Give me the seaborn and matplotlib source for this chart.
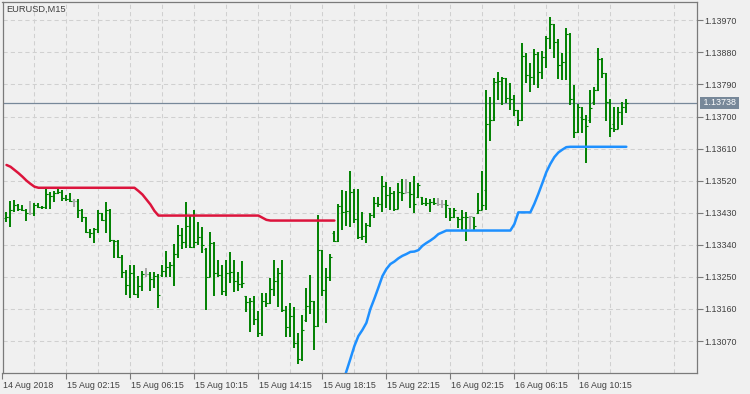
import numpy as np
import pandas as pd
import matplotlib
matplotlib.use("Agg")
import matplotlib.pyplot as plt
import matplotlib.transforms as mtransforms
import seaborn as sns

# ---------------- data ----------------
symbol = "EURUSD,M15"
first_bar_time = "2018-08-14 22:30"
bar_minutes = 15
current_price = 1.13738

opens = [1.13416, 1.13419, 1.13438, 1.13452, 1.13440, 1.13438, 1.13428, 1.13428, 1.13452, 1.13447,
         1.13445, 1.13483, 1.13477, 1.13484, 1.13489, 1.13470, 1.13468, 1.13464, 1.13464, 1.13438,
         1.13419, 1.13377, 1.13372, 1.13383, 1.13428, 1.13410, 1.13438, 1.13354, 1.13352, 1.13307,
         1.13265, 1.13227, 1.13260, 1.13202, 1.13225, 1.13257, 1.13257, 1.13243, 1.13253, 1.13255,
         1.13266, 1.13279, 1.13283, 1.13313, 1.13368, 1.13349, 1.13393, 1.13335, 1.13347, 1.13361,
         1.13328, 1.13251, 1.13344, 1.13260, 1.13255, 1.13210, 1.13260, 1.13265, 1.13237, 1.13229,
         1.13195, 1.13179, 1.13183, 1.13131, 1.13093, 1.13181, 1.13178, 1.13215, 1.13237, 1.13260,
         1.13156, 1.13110, 1.13140, 1.13064, 1.13020, 1.13128, 1.13168, 1.13181, 1.13112, 1.13324,
         1.13213, 1.13249, 1.13372, 1.13351, 1.13449, 1.13431, 1.13435, 1.13489, 1.13412, 1.13361,
         1.13365, 1.13396, 1.13424, 1.13458, 1.13455, 1.13505, 1.13480, 1.13484, 1.13441, 1.13489,
         1.13486, 1.13487, 1.13482, 1.13475, 1.13475, 1.13456, 1.13458, 1.13461, 1.13456, 1.13455,
         1.13455, 1.13442, 1.13417, 1.13419, 1.13412, 1.13417, 1.13419, 1.13419, 1.13430, 1.13438,
         1.13494, 1.13679, 1.13690, 1.13798, 1.13800, 1.13807, 1.13751, 1.13748, 1.13718, 1.13690,
         1.13870, 1.13817, 1.13810, 1.13875, 1.13824, 1.13868, 1.13919, 1.13960, 1.13910, 1.13845,
         1.13854, 1.13931, 1.13750, 1.13657, 1.13700, 1.13692, 1.13690, 1.13740, 1.13774, 1.13860,
         1.13821, 1.13742, 1.13680, 1.13664, 1.13713, 1.13726]

highs = [1.13433, 1.13463, 1.13466, 1.13454, 1.13452, 1.13440, 1.13463, 1.13456, 1.13456, 1.13450,
         1.13498, 1.13489, 1.13492, 1.13497, 1.13494, 1.13480, 1.13486, 1.13468, 1.13468, 1.13440,
         1.13419, 1.13383, 1.13386, 1.13438, 1.13430, 1.13459, 1.13440, 1.13354, 1.13354, 1.13311,
         1.13269, 1.13283, 1.13283, 1.13253, 1.13267, 1.13274, 1.13263, 1.13263, 1.13257, 1.13283,
         1.13323, 1.13293, 1.13341, 1.13396, 1.13386, 1.13461, 1.13424, 1.13438, 1.13405, 1.13391,
         1.13330, 1.13377, 1.13349, 1.13297, 1.13283, 1.13297, 1.13321, 1.13297, 1.13265, 1.13295,
         1.13195, 1.13190, 1.13196, 1.13155, 1.13204, 1.13206, 1.13246, 1.13296, 1.13274, 1.13296,
         1.13168, 1.13176, 1.13166, 1.13092, 1.13143, 1.13220, 1.13255, 1.13183, 1.13424, 1.13324,
         1.13274, 1.13313, 1.13380, 1.13455, 1.13494, 1.13492, 1.13548, 1.13497, 1.13497, 1.13433,
         1.13400, 1.13430, 1.13473, 1.13473, 1.13534, 1.13517, 1.13503, 1.13492, 1.13514, 1.13524,
         1.13524, 1.13517, 1.13534, 1.13513, 1.13475, 1.13472, 1.13468, 1.13470, 1.13470, 1.13466,
         1.13466, 1.13442, 1.13442, 1.13419, 1.13438, 1.13433, 1.13421, 1.13419, 1.13484, 1.13548,
         1.13773, 1.13756, 1.13807, 1.13826, 1.13812, 1.13807, 1.13795, 1.13760, 1.13718, 1.13907,
         1.13877, 1.13849, 1.13889, 1.13882, 1.13884, 1.13926, 1.13980, 1.13960, 1.13917, 1.13877,
         1.13947, 1.13933, 1.13788, 1.13734, 1.13728, 1.13704, 1.13774, 1.13784, 1.13893, 1.13863,
         1.13821, 1.13748, 1.13728, 1.13726, 1.13740, 1.13748]

lows = [1.13405, 1.13391, 1.13433, 1.13435, 1.13436, 1.13408, 1.13424, 1.13422, 1.13442, 1.13440,
        1.13440, 1.13440, 1.13461, 1.13483, 1.13464, 1.13464, 1.13459, 1.13447, 1.13416, 1.13403,
        1.13372, 1.13358, 1.13346, 1.13372, 1.13408, 1.13372, 1.13349, 1.13304, 1.13304, 1.13246,
        1.13200, 1.13192, 1.13199, 1.13192, 1.13210, 1.13251, 1.13209, 1.13220, 1.13164, 1.13251,
        1.13251, 1.13251, 1.13223, 1.13302, 1.13328, 1.13332, 1.13330, 1.13330, 1.13340, 1.13316,
        1.13157, 1.13249, 1.13195, 1.13250, 1.13199, 1.13195, 1.13232, 1.13207, 1.13210, 1.13218,
        1.13152, 1.13096, 1.13115, 1.13082, 1.13084, 1.13166, 1.13175, 1.13196, 1.13166, 1.13152,
        1.13082, 1.13082, 1.13050, 1.13006, 1.13015, 1.13124, 1.13146, 1.13045, 1.13110, 1.13196,
        1.13120, 1.13237, 1.13347, 1.13349, 1.13382, 1.13393, 1.13391, 1.13400, 1.13355, 1.13354,
        1.13346, 1.13391, 1.13414, 1.13447, 1.13433, 1.13442, 1.13438, 1.13436, 1.13440, 1.13464,
        1.13484, 1.13442, 1.13430, 1.13470, 1.13452, 1.13449, 1.13433, 1.13452, 1.13449, 1.13442,
        1.13414, 1.13408, 1.13414, 1.13386, 1.13382, 1.13352, 1.13384, 1.13382, 1.13426, 1.13438,
        1.13438, 1.13631, 1.13688, 1.13746, 1.13732, 1.13737, 1.13718, 1.13701, 1.13672, 1.13688,
        1.13795, 1.13770, 1.13788, 1.13779, 1.13805, 1.13835, 1.13889, 1.13863, 1.13805, 1.13802,
        1.13802, 1.13732, 1.13639, 1.13653, 1.13653, 1.13569, 1.13681, 1.13732, 1.13772, 1.13807,
        1.13686, 1.13643, 1.13657, 1.13664, 1.13676, 1.13709]

closes = [1.13419, 1.13438, 1.13452, 1.13440, 1.13438, 1.13428, 1.13428, 1.13452, 1.13447, 1.13445,
          1.13483, 1.13477, 1.13484, 1.13489, 1.13470, 1.13468, 1.13464, 1.13464, 1.13438, 1.13419,
          1.13377, 1.13372, 1.13383, 1.13428, 1.13410, 1.13438, 1.13354, 1.13352, 1.13307, 1.13265,
          1.13227, 1.13260, 1.13202, 1.13225, 1.13257, 1.13257, 1.13243, 1.13253, 1.13199, 1.13266,
          1.13279, 1.13283, 1.13313, 1.13368, 1.13349, 1.13393, 1.13335, 1.13347, 1.13361, 1.13340,
          1.13251, 1.13344, 1.13260, 1.13255, 1.13210, 1.13260, 1.13265, 1.13237, 1.13229, 1.13232,
          1.13179, 1.13183, 1.13131, 1.13093, 1.13181, 1.13178, 1.13215, 1.13237, 1.13260, 1.13156,
          1.13110, 1.13140, 1.13064, 1.13020, 1.13100, 1.13168, 1.13181, 1.13112, 1.13324, 1.13213,
          1.13249, 1.13307, 1.13351, 1.13449, 1.13431, 1.13435, 1.13489, 1.13412, 1.13361, 1.13365,
          1.13396, 1.13424, 1.13458, 1.13455, 1.13505, 1.13480, 1.13484, 1.13441, 1.13489, 1.13486,
          1.13487, 1.13482, 1.13454, 1.13508, 1.13456, 1.13458, 1.13461, 1.13456, 1.13455, 1.13455,
          1.13452, 1.13417, 1.13438, 1.13412, 1.13417, 1.13419, 1.13420, 1.13393, 1.13438, 1.13452,
          1.13679, 1.13690, 1.13798, 1.13800, 1.13807, 1.13751, 1.13748, 1.13718, 1.13690, 1.13870,
          1.13817, 1.13810, 1.13875, 1.13824, 1.13868, 1.13919, 1.13960, 1.13910, 1.13845, 1.13854,
          1.13931, 1.13748, 1.13657, 1.13728, 1.13692, 1.13673, 1.13723, 1.13774, 1.13860, 1.13821,
          1.13742, 1.13667, 1.13664, 1.13713, 1.13726, 1.13738]

# red line: one value per bar, starting at the first bar
red_line = [1.13564, 1.13559, 1.13550, 1.13541, 1.13531, 1.13520, 1.13511, 1.13503,
            1.13500, 1.13500, 1.13500, 1.13500, 1.13500, 1.13500, 1.13500, 1.13500, 1.13500,
            1.13500, 1.13500, 1.13500, 1.13500, 1.13500, 1.13500, 1.13500, 1.13500, 1.13500,
            1.13500, 1.13500, 1.13500, 1.13500, 1.13500, 1.13500, 1.13500,
            1.13491, 1.13481, 1.13467, 1.13453, 1.13435, 1.13422,
            1.13422, 1.13422, 1.13422, 1.13422, 1.13422, 1.13422, 1.13422, 1.13422, 1.13422,
            1.13422, 1.13422, 1.13422, 1.13422, 1.13422, 1.13422, 1.13422, 1.13422, 1.13422,
            1.13422, 1.13422, 1.13422, 1.13422, 1.13422, 1.13422, 1.13422,
            1.13416, 1.13410,
            1.13408, 1.13408, 1.13408, 1.13408, 1.13408, 1.13408, 1.13408, 1.13408, 1.13408,
            1.13408, 1.13408, 1.13408, 1.13408, 1.13408, 1.13408, 1.13408, 1.13408]

# blue line: starts at bar 84 and runs to the last bar
blue_first_bar = 84
blue_line = [1.12950, 1.12985, 1.13020, 1.13056, 1.13084, 1.13101, 1.13121, 1.13160, 1.13189,
             1.13220, 1.13252, 1.13272, 1.13286, 1.13293, 1.13302, 1.13309, 1.13314, 1.13320,
             1.13321, 1.13325, 1.13337, 1.13345, 1.13352, 1.13360, 1.13370, 1.13375,
             1.13380, 1.13380, 1.13380, 1.13380, 1.13380, 1.13380, 1.13380, 1.13380, 1.13380,
             1.13380, 1.13380, 1.13380, 1.13380, 1.13380, 1.13380, 1.13380, 1.13380,
             1.13398, 1.13431, 1.13431, 1.13431, 1.13431,
             1.13455, 1.13483, 1.13513, 1.13544, 1.13567, 1.13586, 1.13599, 1.13607, 1.13614,
             1.13615, 1.13615, 1.13615, 1.13615, 1.13615, 1.13615, 1.13615, 1.13615,
             1.13615, 1.13615, 1.13615, 1.13615, 1.13615, 1.13615, 1.13615]

y_tick_values = [1.13070, 1.13160, 1.13250, 1.13340, 1.13430, 1.13520,
                 1.13610, 1.13700, 1.13790, 1.13880, 1.13970]
x_label_times = ["2018-08-14 22:15", "2018-08-15 02:15", "2018-08-15 06:15",
                 "2018-08-15 10:15", "2018-08-15 14:15", "2018-08-15 18:15",
                 "2018-08-15 22:15", "2018-08-16 02:15", "2018-08-16 06:15",
                 "2018-08-16 10:15"]

# ---------------- styling ----------------
BG = "#F0F0F0"
GRID = "#D0D0D0"
FRAME = "#7A7A7A"
TEXT = "#404040"
BAR_GREEN = "#008000"
DOJI_GRAY = "#A8A8A8"
RED = "#DC143C"
BLUE = "#1E90FF"
PRICE_LINE = "#778899"
FS = 6.4

sns.set_theme(style="white")
plt.rcParams["font.family"] = ["Liberation Sans", "DejaVu Sans"]

n = len(opens)
times = pd.date_range(first_bar_time, periods=n, freq=f"{bar_minutes}min")
df = pd.DataFrame({"bar": np.arange(n), "time": times, "open": opens,
                   "high": highs, "low": lows, "close": closes})
df["red"] = pd.Series(red_line, index=range(len(red_line)))
blue_idx = range(blue_first_bar, blue_first_bar + len(blue_line))
df["blue"] = pd.Series(blue_line, index=blue_idx)

W, H = 750, 394
fig = plt.figure(figsize=(W / 100, H / 100), dpi=100, facecolor=BG)
ax_l, ax_r, ax_t, ax_b = 2.5, 697.0, 2.3, 373.0
ax = fig.add_axes([ax_l / W, (H - ax_b) / H, (ax_r - ax_l) / W, (ax_b - ax_t) / H])
ax.set_facecolor(BG)

# scales: 4 px per bar, first bar 3.8 px right of frame
px_per_bar = 4.0
x0 = -(6.3 - ax_l) / px_per_bar
ax.set_xlim(x0, x0 + (ax_r - ax_l) / px_per_bar)
ax.set_ylim(1.129802, 1.140205)

# bars
doji = np.isclose(df["open"], df["close"], atol=1e-7)
colors = np.where(doji, DOJI_GRAY, BAR_GREEN)
ax.vlines(df["bar"], df["low"], df["high"], colors=colors, lw=1.4, zorder=3)
ax.hlines(df["open"], df["bar"] - 0.5, df["bar"], colors=colors, lw=0.8, zorder=3)
ax.hlines(df["close"], df["bar"], df["bar"] + 0.5, colors=colors, lw=0.8, zorder=3)

# indicator lines
sns.lineplot(data=df, x="bar", y="red", color=RED, lw=1.8, ax=ax, zorder=4, legend=False)
sns.lineplot(data=df, x="bar", y="blue", color=BLUE, lw=1.8, ax=ax, zorder=4, legend=False)

# current price line
ax.axhline(current_price, color=PRICE_LINE, lw=0.9, zorder=2)

# x ticks (bar positions of label times)
step = pd.Timedelta(minutes=bar_minutes)
lab_t = pd.to_datetime(x_label_times)
lab_pos = [(t - times[0]) / step for t in lab_t]
lab_txt = [t.strftime("%d %b %Y") if k == 0 else t.strftime("%d %b %H:%M")
           for k, t in enumerate(lab_t)]
half = (lab_pos[1] - lab_pos[0]) / 2
grid_pos = np.arange(lab_pos[0] + half, ax.get_xlim()[1], 2 * half)
ax.set_xticks(lab_pos)
ax.set_xticklabels(lab_txt)
ax.set_xticks(grid_pos, minor=True)
for lab in ax.get_xticklabels():
    lab.set_horizontalalignment("left")
ax.tick_params(axis="x", which="major", direction="out", length=4, width=0.8,
               color=FRAME, pad=1.5, labelsize=FS, labelcolor=TEXT, bottom=True)
ax.tick_params(axis="x", which="minor", length=0)
offset = mtransforms.ScaledTranslation(1 / 100, 0, fig.dpi_scale_trans)
for lab in ax.get_xticklabels():
    lab.set_transform(lab.get_transform() + offset)

# y ticks on the right
ax.yaxis.tick_right()
ax.set_yticks(y_tick_values)
ax.set_yticklabels([f"{v:.5f}" for v in y_tick_values])
ax.tick_params(axis="y", direction="out", length=4, width=0.8, color=FRAME,
               pad=1.6, labelsize=FS, labelcolor=TEXT, right=True, left=False)

ax.set_xlabel("")
ax.set_ylabel("")

# grid
ax.set_axisbelow(True)
ax.grid(True, which="both", color=GRID, lw=0.75, linestyle=(0, (4, 3)))
ax.grid(False, axis="y", which="minor")

for s in ax.spines.values():
    s.set_color(FRAME)
    s.set_linewidth(0.9)
    s.set_visible(True)

# symbol title
ax.text(0.006, 0.981, symbol, transform=ax.transAxes, ha="left", va="center",
        fontsize=6.7, color=TEXT)

# current price tag
trans = mtransforms.blended_transform_factory(ax.transAxes, ax.transData)
ax.text(1.0 + 3.9 / (ax_r - ax_l), current_price, f" {current_price:.5f} ",
        transform=trans, ha="left", va="center", fontsize=FS, color="white",
        bbox=dict(boxstyle="square,pad=0.12", fc=PRICE_LINE, ec="none"),
        clip_on=False, zorder=6)

fig.savefig("out.png", dpi=100, facecolor=BG)
